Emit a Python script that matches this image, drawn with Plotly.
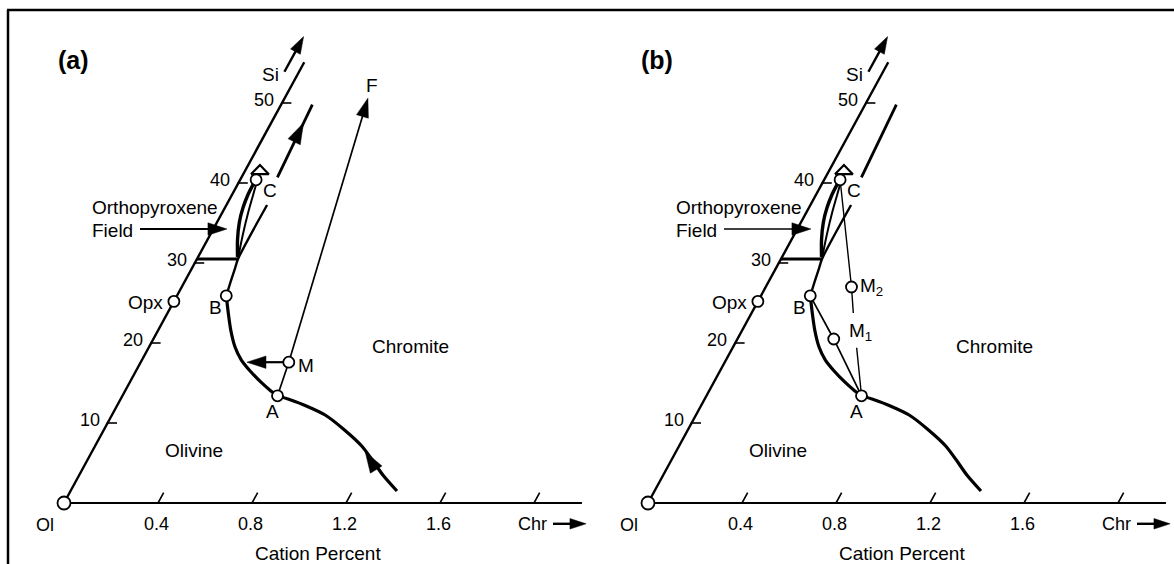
import plotly.graph_objects as go

# ---------------- data (Chr cation %, Si cation %) ----------------
SKEW = 4.36 / 235.0          # oblique Si axis: Chr-units of horizontal shift per Si unit

chr_tick_vals = [0.4, 0.8, 1.2, 1.6, 2.0]
chr_tick_text = ["0.4", "0.8", "1.2", "1.6", "Chr"]
si_tick_vals = [10, 20, 30, 40, 50]
si_tick_text = ["10", "20", "30", "40", "50"]
si_axis_top = 55.1
chr_axis_end = 2.204

# named points
pts_a_names = ["Ol", "Opx", "B", "C", "M", "A"]
pts_a_chr = [0.0, 0.0, 0.21, 0.068, 0.63, 0.66]
pts_a_si = [0.0, 25.2, 25.9, 40.4, 17.6, 13.4]
pts_b_names = ["Ol", "Opx", "B", "C", "M2", "M1", "A"]
pts_b_chr = [0.0, 0.0, 0.21, 0.068, 0.365, 0.41, 0.66]
pts_b_si = [0.0, 25.2, 25.9, 40.4, 27.0, 20.5, 13.4]

# olivine / chromite cotectic, B -> A and A -> low-Si end
cot_BA_chr = [0.21, 0.255, 0.309, 0.366, 0.422, 0.486, 0.558, 0.615, 0.66]
cot_BA_si = [25.9, 23.9, 21.6, 19.5, 17.9, 16.5, 15.1, 14.1, 13.4]
cot_Aend_chr = [0.66, 0.723, 0.809, 0.907, 1.026, 1.136, 1.211, 1.292, 1.389]
cot_Aend_si = [13.4, 12.9, 12.1, 11.0, 9.1, 7.1, 5.4, 3.5, 1.5]

# orthopyroxene/chromite boundary, from B upward
bnd_low_chr = [0.21, 0.194, 0.183, 0.1745, 0.173]
bnd_low_si = [25.9, 27.9, 29.4, 30.5, 37.25]
bnd_up_chr = [0.153, 0.133]
bnd_up_si = [40.7, 49.8]
# base of the orthopyroxene field
opx_base_chr = [0.0, 0.1745]
opx_base_si = [30.5, 30.5]
# lens-shaped opx field boundary up to C
lens_l_chr = [0.168, 0.128, 0.095, 0.077, 0.068, 0.066]
lens_l_si = [30.75, 32.9, 35.1, 36.9, 38.5, 40.2]
lens_r_chr = [0.168, 0.138, 0.111, 0.093, 0.077]
lens_r_si = [31.0, 33.6, 36.2, 38.2, 40.0]
# open triangle above C
tri_chr = [0.033, 0.109, 0.050, 0.033]
tri_si = [41.1, 41.1, 42.25, 41.1]

# panel (a) paths
F_chr = [0.63, 0.3545]
F_si = [17.6, 50.6]
MA_chr = [0.63, 0.66]
MA_si = [17.6, 13.4]
Marrow_chr = [0.63, 0.452]
Marrow_si = [17.6, 17.6]
up_head_chr = [0.141, 0.138]
up_head_si = [45.5, 47.5]
cot_head_chr = [1.242, 1.163]
cot_head_si = [4.4, 6.4]

# panel (b) paths
BM1A_chr = [0.21, 0.41, 0.66]
BM1A_si = [25.9, 20.5, 13.4]
CM2A_chr = [0.068, 0.365, 0.433, None, 0.528, 0.66]
CM2A_si = [40.4, 27.0, 23.75, None, 19.4, 13.4]

# arrows on the frame
si_arrow_chr = [-0.062, -0.062]
si_arrow_si = [53.9, 58.3]
chr_arrow_chr = [2.129, 2.27]
chr_arrow_si = [-2.6, -2.6]
field_arrow_chr = [-0.312, 0.058]
field_arrow_si = [34.25, 34.25]

# text labels: (text, chr, si, xanchor)
labels_common = [
    ("Si", -0.114, 53.6, "center"),
    ("Opx", -0.121, 25.1, "center"),
    ("B", 0.188, 24.5, "center"),
    ("C", 0.151, 39.1, "center"),
    ("A", 0.672, 11.5, "center"),
    ("Chromite", 1.109, 19.6, "center"),
    ("Olivine", 0.43, 6.6, "center"),
    ("Orthopyroxene", -0.574, 36.9, "left"),
    ("Field", -0.522, 34.1, "left"),
    ("Cation Percent", 1.197, -6.25, "center"),
]
labels_a = [("F", 0.341, 52.25, "center"), ("M", 0.710, 17.25, "center")]
labels_b = [("M<sub>2</sub>", 0.393, 27.0, "left"), ("M<sub>1</sub>", 0.45, 21.4, "left")]

# ---------------------------------------------------------------------------------------
FONT = "Liberation Sans, Arial, Helvetica, sans-serif"
INK = "#000000"


def X(c, s):
    return [None if ci is None else ci + SKEW * si for ci, si in zip(c, s)]


fig = go.Figure()


def add_line(c, s, w, xa, ya, spline=False):
    fig.add_trace(go.Scatter(
        x=X(c, s), y=list(s), mode="lines", xaxis=xa, yaxis=ya,
        line=dict(color=INK, width=w, shape="spline" if spline else "linear", smoothing=0.8),
        hoverinfo="skip", showlegend=False, cliponaxis=False, connectgaps=False))


def add_arrow(c, s, w, size, xa, ya, show_line=True):
    n = len(c)
    fig.add_trace(go.Scatter(
        x=X(c, s), y=list(s), mode="lines+markers" if show_line else "markers",
        xaxis=xa, yaxis=ya,
        line=dict(color=INK, width=w),
        marker=dict(symbol="arrow", size=[0] * (n - 1) + [size], angleref="previous",
                    color=INK, opacity=1, line=dict(width=0.5, color=INK)),
        hoverinfo="skip", showlegend=False, cliponaxis=False))


def add_points(c, s, xa, ya):
    sizes = [13 if (ci == 0 and si == 0) else 11 for ci, si in zip(c, s)]
    fig.add_trace(go.Scatter(
        x=X(c, s), y=list(s), mode="markers", xaxis=xa, yaxis=ya,
        marker=dict(symbol="circle", size=sizes, color="white", opacity=1,
                    line=dict(color=INK, width=1.8)),
        hoverinfo="skip", showlegend=False, cliponaxis=False))


annotations = []


def add_text(text, c, s, xa, ya, xanchor="center", size=19, xshift=0, yshift=0):
    annotations.append(dict(
        text=text, x=c + SKEW * s, y=s, xref=xa, yref=ya, showarrow=False,
        xanchor=xanchor, yanchor="middle", xshift=xshift, yshift=yshift,
        font=dict(family=FONT, size=size, color=INK)))


def draw_panel(xa, ya, variant):
    # frame axes
    add_line([0, chr_axis_end], [0, 0], 2.2, xa, ya)
    add_line([0, 0], [0, si_axis_top], 2.4, xa, ya)
    for v in chr_tick_vals:
        add_line([v, v], [0, 1.3], 1.6, xa, ya)
    for v in si_tick_vals:
        add_line([-0.004, 0.04], [v, v], 1.6, xa, ya)
    # phase boundaries
    add_line(cot_BA_chr, cot_BA_si, 3.2, xa, ya, spline=True)
    add_line(cot_Aend_chr, cot_Aend_si, 3.2, xa, ya, spline=True)
    add_line(bnd_low_chr, bnd_low_si, 2.4, xa, ya, spline=True)
    add_line(bnd_up_chr, bnd_up_si, 2.8, xa, ya)
    add_line(opx_base_chr, opx_base_si, 2.8, xa, ya)
    add_line(lens_l_chr, lens_l_si, 3.4, xa, ya, spline=True)
    add_line(lens_r_chr, lens_r_si, 2.0, xa, ya, spline=True)
    add_line(tri_chr, tri_si, 2.2, xa, ya)
    # arrows on frame
    add_arrow(si_arrow_chr, si_arrow_si, 2.4, 18, xa, ya)
    add_arrow(chr_arrow_chr, chr_arrow_si, 2.4, 17, xa, ya)
    add_arrow(field_arrow_chr, field_arrow_si, 2.0 if variant == "a" else 1.3, 20, xa, ya)
    if variant == "a":
        add_arrow(F_chr, F_si, 1.7, 20, xa, ya)
        add_line(MA_chr, MA_si, 1.7, xa, ya)
        add_arrow(Marrow_chr, Marrow_si, 2.2, 20, xa, ya)
        add_arrow(up_head_chr, up_head_si, 2.8, 22, xa, ya, show_line=False)
        add_arrow(cot_head_chr, cot_head_si, 3.0, 22, xa, ya, show_line=False)
        add_points(pts_a_chr, pts_a_si, xa, ya)
    else:
        add_line(BM1A_chr, BM1A_si, 1.7, xa, ya)
        add_line(CM2A_chr, CM2A_si, 1.4, xa, ya)
        add_points(pts_b_chr, pts_b_si, xa, ya)
    # texts
    for v, t in zip(si_tick_vals, si_tick_text):
        add_text(t, 0, v, xa, ya, xanchor="right", size=18, xshift=-6, yshift=3)
    for v, t in zip(chr_tick_vals, chr_tick_text):
        add_text(t, v, 0, xa, ya, size=18, xshift=-2, yshift=-21)
    add_text("Ol", 0, 0, xa, ya, size=18, xshift=-19, yshift=-22)
    for t, c, s, anc in labels_common + (labels_a if variant == "a" else labels_b):
        add_text(t, c, s, xa, ya, xanchor=anc)


draw_panel("x", "y", "a")
draw_panel("x2", "y2", "b")

for t, px in (("(a)", 73), ("(b)", 657)):
    annotations.append(dict(text="<b>%s</b>" % t, x=px / 1174, y=1 - 60 / 564, xref="paper", yref="paper",
                            showarrow=False, xanchor="center", yanchor="middle",
                            font=dict(family=FONT, size=25, color=INK)))

yr = [-7.625, 62.875]
fig.update_layout(
    width=1174, height=564, autosize=False,
    margin=dict(l=0, r=0, t=0, b=0),
    paper_bgcolor="white", plot_bgcolor="white",
    xaxis=dict(domain=[0, 0.5], range=[-64 / 235, 523 / 235], visible=False, anchor="y"),
    yaxis=dict(domain=[0, 1], range=yr, visible=False, anchor="x"),
    xaxis2=dict(domain=[0.5, 1], range=[-61 / 235, 526 / 235], visible=False, anchor="y2"),
    yaxis2=dict(domain=[0, 1], range=yr, visible=False, anchor="x2"),
    annotations=annotations,
    shapes=[
        dict(type="line", xref="paper", yref="paper", x0=7 / 1174, x1=1, y0=1 - 10 / 564, y1=1 - 10 / 564,
             line=dict(color=INK, width=2.5)),
        dict(type="line", xref="paper", yref="paper", x0=8 / 1174, x1=8 / 1174, y0=0, y1=1 - 10 / 564,
             line=dict(color=INK, width=2.5)),
    ],
    showlegend=False,
)

fig.write_html(
    "out.html",
    config={"displayModeBar": False},
    post_script="document.body.style.margin='0px';document.body.style.overflow='hidden';",
)
